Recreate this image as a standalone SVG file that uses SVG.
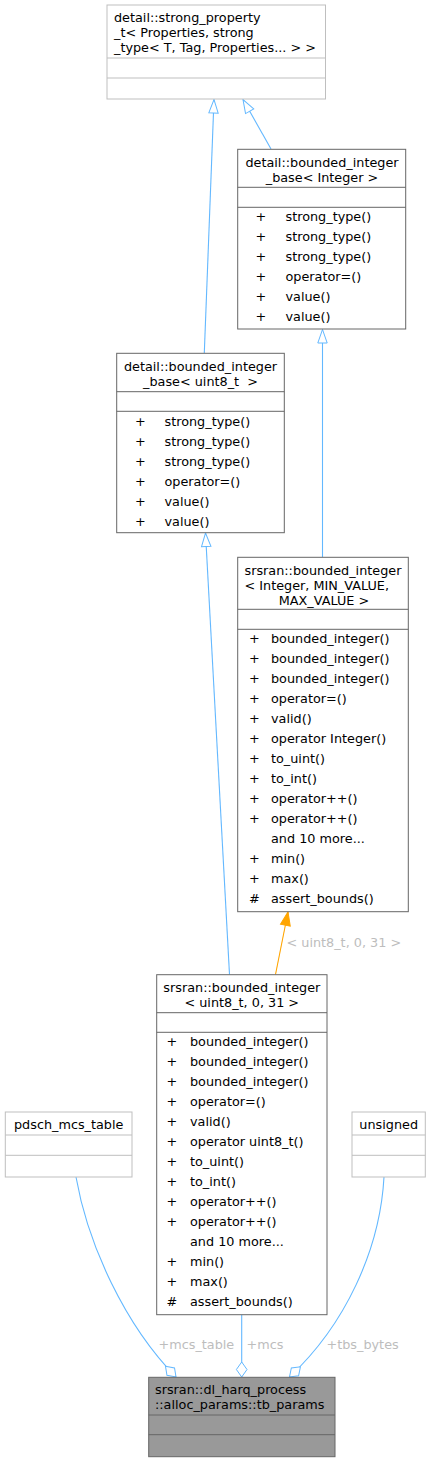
<svg xmlns="http://www.w3.org/2000/svg" width="431" height="1463" viewBox="0 0 431 1463">
<style>
text{font-family:"DejaVu Sans","Liberation Sans",sans-serif;font-size:12.8px;fill:#000}
.m{text-anchor:middle}
.lbl{fill:#bdbdbd}
.nl{fill:#fff;stroke:#bfbfbf;stroke-width:1}
.nk{fill:#fff;stroke:#666;stroke-width:1}
.nr{fill:#999;stroke:#666;stroke-width:1}
.sl{stroke:#bfbfbf;stroke-width:1}
.sk{stroke:#666;stroke-width:1}
.e{fill:none;stroke:#63b8ff;stroke-width:1.1}
.eo{fill:none;stroke:#ffa500;stroke-width:1.1}
</style>
<defs>
<marker id="inh" markerUnits="userSpaceOnUse" markerWidth="16" markerHeight="12" refX="14" refY="5" orient="auto" overflow="visible">
<path d="M0.5,0.3 L14,5 L0.5,9.7 Z" fill="#fff" stroke="#63b8ff" stroke-width="1"/>
</marker>
<marker id="tpl" markerUnits="userSpaceOnUse" markerWidth="16" markerHeight="12" refX="14" refY="5" orient="auto" overflow="visible">
<path d="M0.5,0 L14,5 L0.5,10 Z" fill="#ffa500" stroke="#ffa500" stroke-width="1"/>
</marker>
<marker id="dia" markerUnits="userSpaceOnUse" markerWidth="17" markerHeight="12" refX="15.5" refY="5.3" orient="auto" overflow="visible">
<path d="M0.5,5.3 L8,0 L15.5,5.3 L8,10.6 Z" fill="#fff" stroke="#63b8ff" stroke-width="1"/>
</marker>
</defs>

<g id="edges">
<path class="e" d="M204.3,353 L214,99.5" marker-end="url(#inh)"/>
<path class="e" d="M271,149 L243,99.5" marker-end="url(#inh)"/>
<path class="e" d="M322.5,557 L322.5,329.5" marker-end="url(#inh)"/>
<path class="e" d="M229.5,974.5 L205.5,533" marker-end="url(#inh)"/>
<path class="eo" d="M275.5,974.5 L288,912" marker-end="url(#tpl)"/>
<text class="lbl" x="286.5" y="947">&lt; uint8_t, 0, 31 &gt;</text>
<path class="e" d="M76,1177 C88,1245 125,1325 176,1377" marker-end="url(#dia)"/>
<text class="lbl" x="158.5" y="1349">+mcs_table</text>
<path class="e" d="M241.7,1315 L241.7,1377" marker-end="url(#dia)"/>
<text class="lbl" x="246.5" y="1349">+mcs</text>
<path class="e" d="M384,1177 C380,1250 345,1325 289.5,1377" marker-end="url(#dia)"/>
<text class="lbl" x="326.5" y="1349">+tbs_bytes</text>
</g>

<g id="node-strong-property">
<rect class="nl" x="107" y="5" width="218.5" height="94"/>
<line class="sl" x1="107" y1="58" x2="325.5" y2="58"/>
<line class="sl" x1="107" y1="78" x2="325.5" y2="78"/>
<text x="114" y="22">detail::strong_property</text>
<text x="114" y="37">_t&lt; Properties, strong</text>
<text x="114" y="52">_type&lt; T, Tag, Properties... &gt; &gt;</text>
</g>

<g id="node-bib-integer">
<rect class="nk" x="237.7" y="149.3" width="168" height="179.7"/>
<line class="sk" x1="237.7" y1="187.3" x2="405.7" y2="187.3"/>
<line class="sk" x1="237.7" y1="207.3" x2="405.7" y2="207.3"/>
<text class="m" x="322" y="166.5">detail::bounded_integer</text>
<text class="m" x="322" y="181.5">_base&lt; Integer &gt;</text>
<text x="255.5" y="221">+</text><text x="285.5" y="221">strong_type()</text>
<text x="255.5" y="241">+</text><text x="285.5" y="241">strong_type()</text>
<text x="255.5" y="261">+</text><text x="285.5" y="261">strong_type()</text>
<text x="255.5" y="281">+</text><text x="285.5" y="281">operator=()</text>
<text x="255.5" y="301">+</text><text x="285.5" y="301">value()</text>
<text x="255.5" y="321">+</text><text x="285.5" y="321">value()</text>
</g>

<g id="node-bib-uint8">
<rect class="nk" x="116.7" y="353.3" width="167.6" height="179.4"/>
<line class="sk" x1="116.7" y1="391.7" x2="284.3" y2="391.7"/>
<line class="sk" x1="116.7" y1="411.3" x2="284.3" y2="411.3"/>
<text class="m" x="200.5" y="370.5">detail::bounded_integer</text>
<text class="m" x="200.5" y="385.5" xml:space="preserve">_base&lt; uint8_t  &gt;</text>
<text x="135" y="425.5">+</text><text x="164.5" y="425.5">strong_type()</text>
<text x="135" y="445.5">+</text><text x="164.5" y="445.5">strong_type()</text>
<text x="135" y="465.5">+</text><text x="164.5" y="465.5">strong_type()</text>
<text x="135" y="485.5">+</text><text x="164.5" y="485.5">operator=()</text>
<text x="135" y="505.5">+</text><text x="164.5" y="505.5">value()</text>
<text x="135" y="525.5">+</text><text x="164.5" y="525.5">value()</text>
</g>

<g id="node-bounded-integer-template">
<rect class="nk" x="237.7" y="557.3" width="170.6" height="354.4"/>
<line class="sk" x1="237.7" y1="609.3" x2="408.3" y2="609.3"/>
<line class="sk" x1="237.7" y1="629.3" x2="408.3" y2="629.3"/>
<text x="244.5" y="574.5">srsran::bounded_integer</text>
<text x="244.5" y="589.5">&lt; Integer, MIN_VALUE,</text>
<text class="m" x="324" y="604.5">MAX_VALUE &gt;</text>
<text x="249" y="643">+</text><text x="271" y="643">bounded_integer()</text>
<text x="249" y="663">+</text><text x="271" y="663">bounded_integer()</text>
<text x="249" y="683">+</text><text x="271" y="683">bounded_integer()</text>
<text x="249" y="703">+</text><text x="271" y="703">operator=()</text>
<text x="249" y="723">+</text><text x="271" y="723">valid()</text>
<text x="249" y="743">+</text><text x="271" y="743">operator Integer()</text>
<text x="249" y="763">+</text><text x="271" y="763">to_uint()</text>
<text x="249" y="783">+</text><text x="271" y="783">to_int()</text>
<text x="249" y="803">+</text><text x="271" y="803">operator++()</text>
<text x="249" y="823">+</text><text x="271" y="823">operator++()</text>
<text x="271" y="843">and 10 more...</text>
<text x="249" y="863">+</text><text x="271" y="863">min()</text>
<text x="249" y="883">+</text><text x="271" y="883">max()</text>
<text x="249" y="903">#</text><text x="271" y="903">assert_bounds()</text>
</g>

<g id="node-bounded-integer-uint8">
<rect class="nk" x="156.7" y="974.7" width="170.3" height="340"/>
<line class="sk" x1="156.7" y1="1012.7" x2="327" y2="1012.7"/>
<line class="sk" x1="156.7" y1="1032.3" x2="327" y2="1032.3"/>
<text class="m" x="241.8" y="991.5">srsran::bounded_integer</text>
<text class="m" x="241.8" y="1006.5">&lt; uint8_t, 0, 31 &gt;</text>
<text x="166.5" y="1046">+</text><text x="190" y="1046">bounded_integer()</text>
<text x="166.5" y="1066">+</text><text x="190" y="1066">bounded_integer()</text>
<text x="166.5" y="1086">+</text><text x="190" y="1086">bounded_integer()</text>
<text x="166.5" y="1106">+</text><text x="190" y="1106">operator=()</text>
<text x="166.5" y="1126">+</text><text x="190" y="1126">valid()</text>
<text x="166.5" y="1146">+</text><text x="190" y="1146">operator uint8_t()</text>
<text x="166.5" y="1166">+</text><text x="190" y="1166">to_uint()</text>
<text x="166.5" y="1186">+</text><text x="190" y="1186">to_int()</text>
<text x="166.5" y="1206">+</text><text x="190" y="1206">operator++()</text>
<text x="166.5" y="1226">+</text><text x="190" y="1226">operator++()</text>
<text x="190" y="1246">and 10 more...</text>
<text x="166.5" y="1266">+</text><text x="190" y="1266">min()</text>
<text x="166.5" y="1286">+</text><text x="190" y="1286">max()</text>
<text x="166.5" y="1306">#</text><text x="190" y="1306">assert_bounds()</text>
</g>

<g id="node-pdsch-mcs-table">
<rect class="nl" x="5.3" y="1112" width="126.7" height="65"/>
<line class="sl" x1="5.3" y1="1135" x2="132" y2="1135"/>
<line class="sl" x1="5.3" y1="1155.3" x2="132" y2="1155.3"/>
<text class="m" x="68.7" y="1129">pdsch_mcs_table</text>
</g>

<g id="node-unsigned">
<rect class="nl" x="352" y="1112" width="73.3" height="65"/>
<line class="sl" x1="352" y1="1135" x2="425.3" y2="1135"/>
<line class="sl" x1="352" y1="1155.3" x2="425.3" y2="1155.3"/>
<text class="m" x="388.7" y="1129">unsigned</text>
</g>

<g id="node-tb-params">
<rect class="nr" x="148.7" y="1377.3" width="186.3" height="79.4"/>
<line class="sk" x1="148.7" y1="1415" x2="335" y2="1415"/>
<line class="sk" x1="148.7" y1="1434.7" x2="335" y2="1434.7"/>
<text x="155" y="1394">srsran::dl_harq_process</text>
<text x="155" y="1409">::alloc_params::tb_params</text>
</g>
</svg>
